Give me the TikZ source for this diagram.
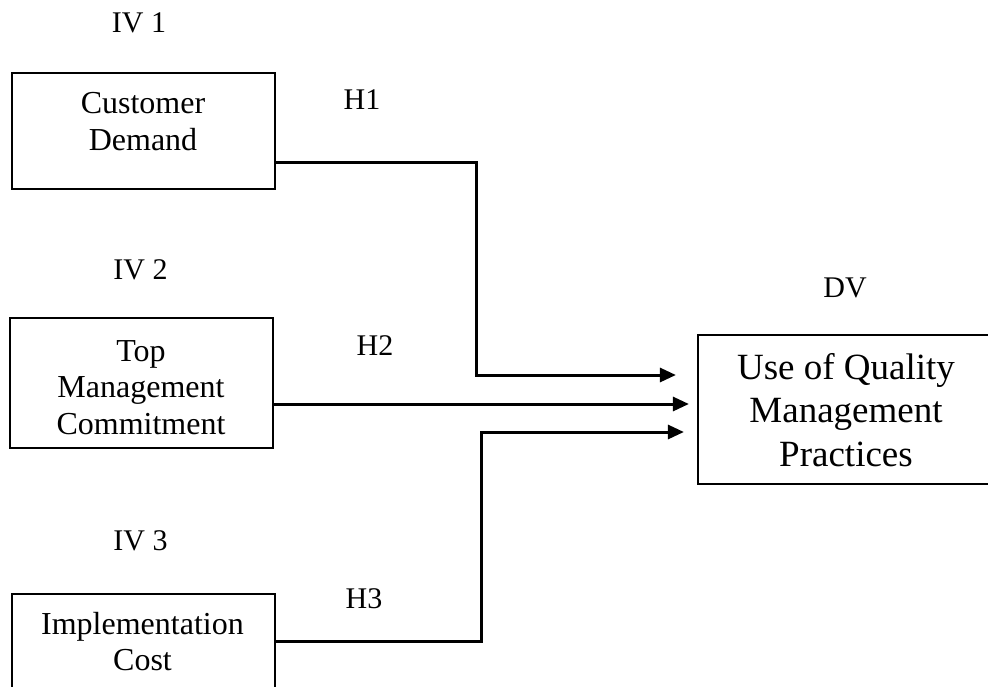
\documentclass[tikz,border=0pt]{standalone}
\usepackage{fontspec}
\setmainfont{Liberation Serif}
\usetikzlibrary{arrows.meta}
\tikzset{
  boxnode/.style={draw, line width=2.2pt, inner sep=0pt},
  boxtext/.style={anchor=base, inner sep=0pt, font=\fontsize{32}{36.5}\selectfont},
  dvtext/.style={anchor=base, inner sep=0pt, font=\fontsize{37}{43.5}\selectfont},
  lbl/.style={anchor=base, inner sep=0pt, font=\fontsize{30}{34}\selectfont},
  conn/.style={line width=3pt, -{Triangle[length=16pt,width=14pt]}}
}
\newcommand{\stk}[1]{\begin{tabular}[t]{@{}c@{}}#1\end{tabular}}
\begin{document}
\begin{tikzpicture}[x=1pt,y=-1pt]
\useasboundingbox (0,0) rectangle (988,687);
\clip (0,0) rectangle (988,687);
% boxes
\node[boxnode, minimum width=263pt, minimum height=116pt] (b1) at (143.5,131) {};
\node[boxnode, minimum width=263pt, minimum height=130pt] (b2) at (141.5,383) {};
\node[boxnode, minimum width=263pt, minimum height=116pt] (b3) at (143.5,652) {};
\node[boxnode, minimum width=296pt, minimum height=149pt] (dv) at (846,409.5) {};
% box texts
\node[boxtext] (t1) at (143,114) {\stk{Customer\\Demand}};
\node[boxtext] (t2) at (141,361) {\stk{Top\\Management\\Commitment}};
\node[boxtext] (t3) at (142.5,634) {\stk{Implementation\\Cost}};
\node[dvtext] (t4) at (846,379) {\stk{Use of Quality\\Management\\Practices}};
% labels
\node[lbl] (iv1) at (139,33) {IV 1};
\node[lbl] (iv2) at (140.5,279) {IV 2};
\node[lbl] (iv3) at (140.5,550) {IV 3};
\node[lbl] (h1) at (362,110) {H1};
\node[lbl] (h2) at (375,355) {H2};
\node[lbl] (h3) at (364,608) {H3};
\node[lbl] (dvl) at (845,298) {DV};
% connectors
\draw[conn] ([yshift=-32pt]b1.east) -| (476,375) -- ([xshift=-21pt,yshift=34.5pt]dv.west);
\draw[conn] ([yshift=-21pt]b2.east) -- ([xshift=-8pt,yshift=5.5pt]dv.west);
\draw[conn] ([yshift=11pt]b3.east) -| (481,432) -- ([xshift=-13pt,yshift=-22.5pt]dv.west);
\end{tikzpicture}
\end{document}
